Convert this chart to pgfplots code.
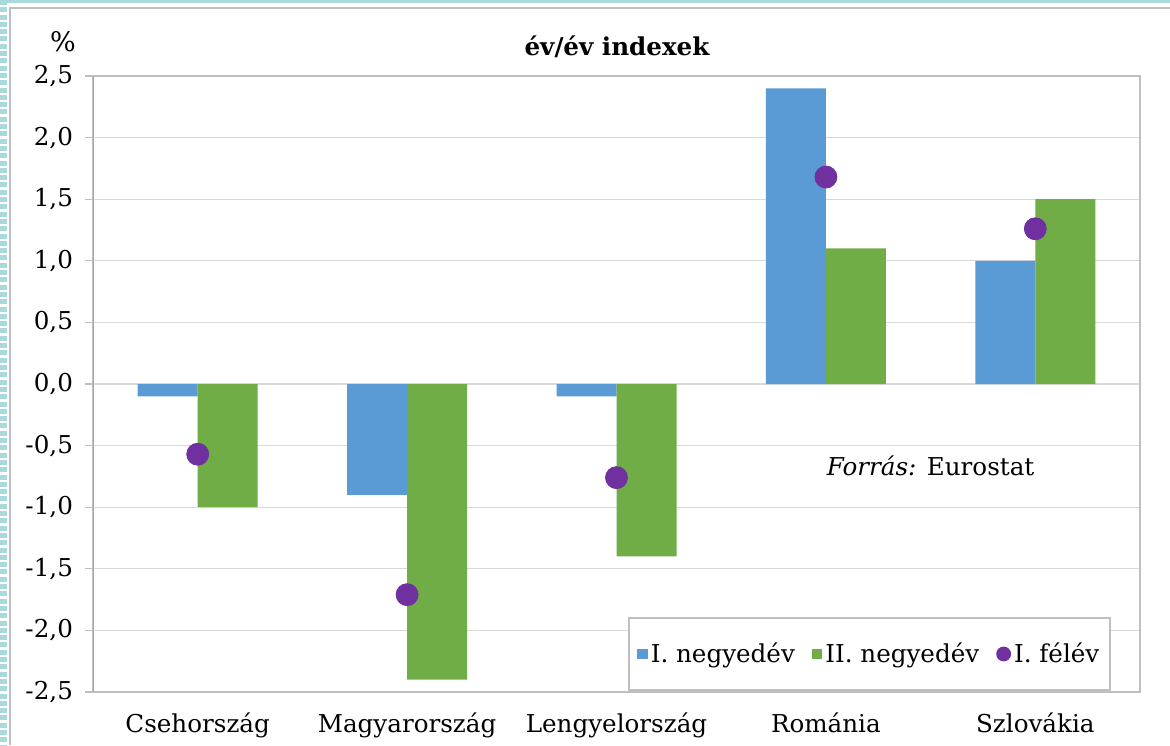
\documentclass[border=0pt]{standalone}
\usepackage{fontspec}
\setmainfont{DejaVu Serif}
\usepackage{pgfplots}
\usepackage{pgfplotstable}
\pgfplotsset{compat=1.18}

\definecolor{qone}{HTML}{5B9BD5}
\definecolor{qtwo}{HTML}{70AD47}
\definecolor{half}{HTML}{7030A0}
\definecolor{gridgray}{HTML}{D9D9D9}
\definecolor{axisgray}{HTML}{BFBFBF}
\definecolor{axisdark}{HTML}{A6A6A6}
\definecolor{stripe}{HTML}{A9D9DC}

% yoy indices, %
\pgfplotstableread{
x q1 q2 h1
0 -0.1 -1.0 -0.57
1 -0.9 -2.4 -1.71
2 -0.1 -1.4 -0.76
3 2.4 1.1 1.68
4 1.0 1.5 1.26
}\yoydata

\begin{document}
\begin{tikzpicture}[font=\fontsize{12.3}{14}\selectfont]
\useasboundingbox (-46.5pt,-26.5pt) rectangle (538.5pt,346pt);
\fill[white] (-46.5pt,-26.5pt) rectangle (538.5pt,346pt);
% decorative frame
\fill[stripe] (-46.5pt,344.4pt) rectangle (538.5pt,346pt);
\draw[stripe, line width=3.5pt, dash pattern=on 2.5pt off 1.15pt] (-44.75pt,346pt) -- (-44.75pt,-26.5pt);
\draw[axisgray, line width=1pt] (-41.5pt,-26.5pt) -- (-41.5pt,342pt) -- (538.5pt,342pt);

\node at (262pt,322.5pt) {\bfseries év/év indexek};
\node at (-15pt,325pt) {\fontsize{13.5}{15}\selectfont\%};

\begin{axis}[
  at={(0,0)}, anchor=south west,
  scale only axis, width=523.5pt, height=308pt,
  xmin=-0.5, xmax=4.5, ymin=-2.5, ymax=2.5,
  xtick={0,1,2,3,4},
  xticklabels={Csehország,Magyarország,Lengyelország,Románia,Szlovákia},
  x tick style={draw=none},
  xticklabel style={yshift=-3pt},
  ytick={-2.5,-2,-1.5,-1,-0.5,0,0.5,1,1.5,2,2.5},
  ytick pos=left,
  tick align=outside,
  major tick length=4pt,
  y tick style={axisgray, line width=0.6pt},
  yticklabel style={xshift=-2.5pt, /pgf/number format/.cd, fixed, fixed zerofill, precision=1, use comma, assume math mode=true},
  ymajorgrids,
  major grid style={gridgray, line width=0.6pt},
  axis line style={axisgray, line width=0.6pt},
  legend style={at={(0.742,0.0617)}, anchor=center, legend columns=3,
    draw=axisgray, line width=1pt, fill=white,
    inner xsep=4pt, inner ysep=10.5pt,
    nodes={inner xsep=1.5pt},
    /tikz/every even column/.append style={column sep=7pt}},
  legend cell align=left,
]
\addplot[ybar, bar width=30pt, bar shift=-15pt, fill=qone, draw=none,
  legend image code/.code={\fill[qone] (0pt,-2.6pt) rectangle (5.2pt,2.6pt);}]
  table[x=x, y=q1] {\yoydata};
\addplot[ybar, bar width=30pt, bar shift=15pt, fill=qtwo, draw=none,
  legend image code/.code={\fill[qtwo] (0pt,-2.6pt) rectangle (5.2pt,2.6pt);}]
  table[x=x, y=q2] {\yoydata};
\addplot[only marks, mark=*, mark size=5.5pt, color=half,
  legend image code/.code={\fill[half] (2.6pt,0pt) circle (3.2pt);}]
  table[x=x, y=h1] {\yoydata};
\legend{I. negyedév, II. negyedév, I. félév}
\draw[axisdark, line width=0.7pt] (rel axis cs:0,0) -- (rel axis cs:0,1);
\node at (rel axis cs:0.8,0.367) {\textit{Forrás:} Eurostat};
\end{axis}
\end{tikzpicture}
\end{document}
